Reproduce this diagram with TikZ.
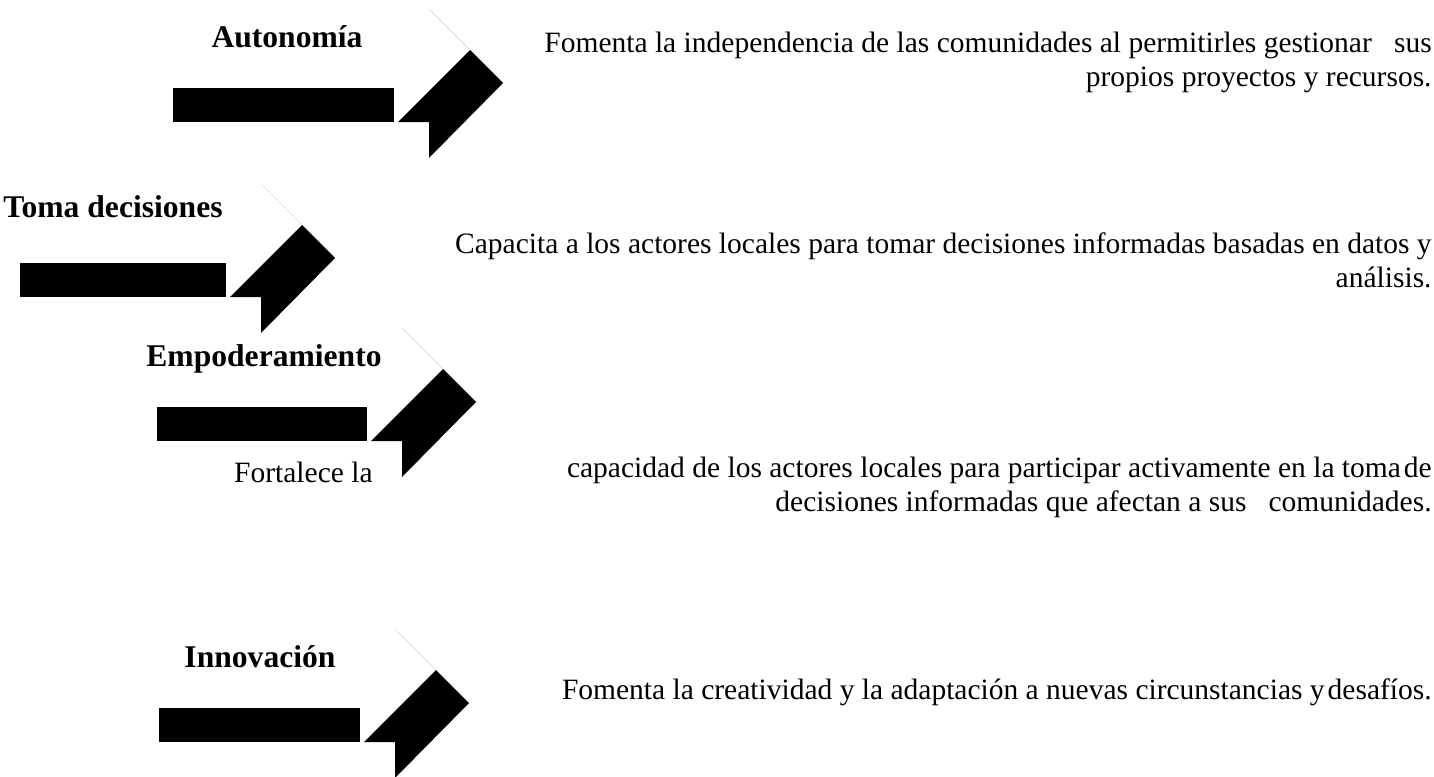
\documentclass[tikz,border=0pt]{standalone}
\usepackage{fontspec}
\setmainfont{Liberation Serif}
\usetikzlibrary{positioning}
\tikzstyle{titulo} = [font=\fontsize{15.8}{18}\selectfont\bfseries, inner sep=0pt, anchor=base]
\tikzstyle{texto} = [font=\fontsize{14.75}{16.75}\selectfont, align=right, inner sep=0pt, anchor=base east]
\tikzstyle{guia} = [draw=gray!35, line width=0.3pt]
% arrow: #1 left x, #2 right x, #3 bottom y
\newcommand{\flecha}[3]{%
    \fill (#1,#3) rectangle (#2,#3-34);
    \fill (#2+4,#3) -- ++(72,-72) -- ++(33,33) -- ++(-74,75) -- ++(0,-36) -- cycle;
    \draw [guia] (#2+35,#3-113) -- (#2+76,#3-72);
}
\begin{document}
\begin{tikzpicture}[x=0.5pt, y=-0.5pt]
    \useasboundingbox (0,0) rectangle (1434,776);

    \flecha{173}{394}{122}
    \flecha{20}{226}{297}
    \flecha{157}{367}{441}
    \flecha{159}{360}{742}

    \node (t1) [titulo] at (287,47) {Autonomía};
    \node (t2) [titulo] at (113,217) {Toma decisiones};
    \node (t3) [titulo] at (264,366) {Empoderamiento};
    \node (t4) [titulo] at (260,667) {Innovación};

    % two-line texts: base is the last line
    \node (d1) [texto] at (1432,86) {Fomenta la independencia de las comunidades al permitirles gestionar\ \ \ sus\\ propios proyectos y recursos.};
    \node (d2) [texto] at (1432,287) {Capacita a los actores locales para tomar decisiones informadas basadas en datos y\\ análisis.};
    \node (d3a) [texto] at (373,482) {Fortalece la};
    \node (d3) [texto] at (1432,511) {capacidad de los actores locales para participar activamente en la toma\hspace{0.1em}de\\ decisiones informadas que afectan a sus\ \ \ comunidades.};
    \node (d4) [texto] at (1432,699) {Fomenta la creatividad y la adaptación a nuevas circunstancias y\hspace{0.1em}desafíos.};
\end{tikzpicture}
\end{document}
